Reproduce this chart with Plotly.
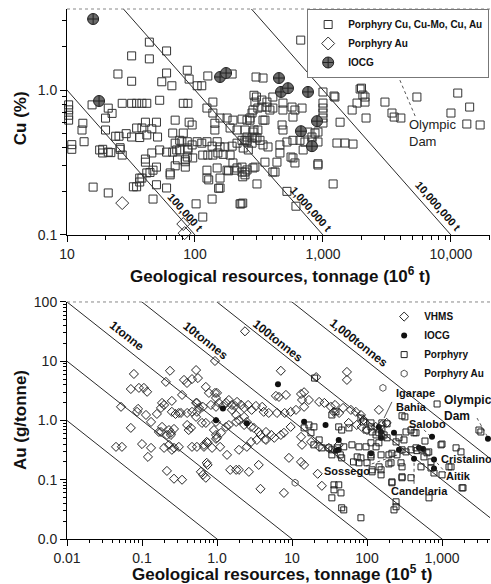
import numpy as np
import plotly.graph_objects as go

# ---------------- TOP PANEL DATA (Cu %, tonnage 10^6 t) ----------------
top_sq_x = [44,60,32,44,25,32,60,55,66,87,90,104,113,126,195,670,980,1290,300,340,
            10.3,10.3,10.3,10.3,10.9,10.9,13.6,15.7,13.3,13.1,21,20,22.5,27,32,35,38.5,42,53,41,50,46,35,38.5,29,32,24,25.5,20,19,22,26,27,37,42,51,53,60,70,90,95,67,81,72,88,87,70,84,64,50,47,44.5,41,35,33,38.5,50,60,16,21,136,102,115,225,124,149,178,205,233,246,284,124,157,157,104,113,124,136,149,157,171,195,213,233,255,279,305,115,126,138,151,166,188,95,87,79,138,157,178,198,143,143,188,213,255,279,88,81,138,124,233,269,284,289,289,294,70,76,73,84,198,
            18,19,21,26,41,46,67,76,88,64,37,37,42,47,84,96,128,153,183,213,229,
            302,333,406,365,294,310,333,365,385,406,487,487,573,604,686,583,479,487,279,255,269,340,352,246,284,310,246,255,322,340,372,238,261,461,523,583,661,723,700,820,914,866,914,764,820,461,437,583,604,294,246,255,406,914,1286,1486,1716,1360,1690,1845,2130,2050,2000,2170,3050,3460,3600,1000,1220,1000,1000,1000,1000,1000,
            914,1200,523,615,563,422,305,236,352,233,236,
            5420,11300,14000,10000,13300,16900,4060,1950,2130,1240]
top_sq_y = [2.14,1.86,1.72,1.64,1.29,1.15,1.31,1.14,1.07,1.37,1.19,1.07,1.07,1.25,1.29,2.21,1.44,1.44,1.23,1.21,
            0.79,0.73,0.67,0.62,0.42,0.39,0.44,0.79,0.59,0.53,0.75,0.64,0.69,0.81,0.81,0.81,0.81,0.81,0.85,0.60,0.60,0.54,0.547,0.547,0.50,0.474,0.48,0.48,0.53,0.39,0.37,0.39,0.356,0.47,0.49,0.474,0.386,0.373,0.62,0.60,0.574,0.505,0.505,0.386,0.386,0.345,0.30,0.294,0.26,0.294,0.28,0.27,0.334,0.215,0.215,0.247,0.222,0.211,0.214,0.195,0.177,0.164,0.133,0.164,0.28,0.29,0.28,0.28,0.294,0.26,0.29,0.247,0.247,0.211,0.44,0.43,0.44,0.41,0.44,0.405,0.405,0.41,0.43,0.45,0.45,0.43,0.467,0.356,0.356,0.356,0.368,0.36,0.356,0.418,0.44,0.44,0.694,0.641,0.641,0.62,0.59,0.53,0.547,0.53,0.474,0.467,0.81,0.81,0.826,0.751,0.63,0.62,0.728,0.92,0.53,0.474,0.43,0.45,0.33,0.33,0.314,
            0.386,0.368,0.373,0.40,0.318,0.368,0.373,0.386,0.398,0.268,0.247,0.232,0.268,0.177,0.32,0.34,0.24,0.21,0.277,0.29,0.164,
            0.895,0.853,0.895,0.826,0.826,0.751,0.763,0.763,0.728,0.751,0.813,0.728,0.763,0.728,0.751,0.651,0.574,0.53,0.694,0.62,0.641,0.62,0.62,0.53,0.513,0.53,0.45,0.438,0.45,0.418,0.405,0.398,0.386,0.418,0.438,0.45,0.45,0.438,0.386,0.438,0.438,0.505,0.513,0.513,0.474,0.368,0.318,0.34,0.314,0.294,0.272,0.281,0.272,0.304,0.431,0.431,0.424,0.60,0.728,0.813,0.826,0.924,1.03,0.641,0.826,0.694,0.651,0.969,0.909,0.813,0.751,0.694,0.641,0.592,
            0.31,0.225,0.20,0.158,0.345,0.272,0.225,0.166,0.318,0.272,0.252,
            0.895,0.953,0.763,0.694,0.583,0.574,0.641,1.016,0.895,0.895]
top_au_x = [27, 81, 83]
top_au_y = [0.166, 0.119, 0.103]
top_iocg_x = [16, 17.8, 157, 175, 453, 470, 533, 764, 898, 673, 820, 3790]
top_iocg_y = [3.09, 0.84, 1.23, 1.31, 1.21, 0.97, 1.03, 0.97, 0.61, 0.52, 0.41, 1.33]
top_contained = [10, 100, 1000]          # Cu% x Mt  -> 100,000 t / 1,000,000 t / 10,000,000 t
top_contained_labels = ["100,000 t", "1,000,000 t", "10,000,000 t"]
top_xticks = [10, 100, 1000, 10000]
top_xticktext = ["10", "100", "1,000", "10,000"]
top_yticks = [0.1, 1.0]
top_yticktext = ["0.1", "1.0"]

# ---------------- BOTTOM PANEL DATA (Au g/t, tonnage 10^5 t) ----------------
bot_vhms_x = [2.36,0.94,0.078,0.236,0.071,0.091,0.106,0.117,0.0525,0.071,0.0886,0.113,0.132,0.158,0.179,0.197,0.208,0.363,0.398,0.464,0.557,0.526,0.342,0.526,0.576,0.71,0.94,0.97,0.33,0.40,0.464,0.526,0.25,0.28,0.185,0.229,0.243,0.40,0.45,0.63,0.97,1.06,0.83,0.65,1.44,1.58,1.85,2.1,2.3,1.58,1.8,2.3,
              0.045,0.054,0.1,0.132,0.197,0.267,0.31,0.215,0.243,0.168,0.464,0.54,0.67,0.75,1.0,1.13,0.215,0.267,0.342,0.61,0.65,0.71,0.73,1.36,1.5,1.8,1.96,2.66,
              7.1,54,54,21,6.7,8.3,6.1,13.2,13.6,0.185,0.25,0.31,0.54,0.54,0.086,0.179,0.267,0.12,0.229,0.25,0.42,0.67,0.73,0.97,0.97,0.71,0.97,1.2,1.32,1.74,2.6,2.9,3.3,4.0,4.2,4.9,6.3,8.0,9.6,11.3,14.5,0.78,1.0,0.91,1.32,1.44,1.8,1.96,2.3,2.5,2.85,3.1,3.6,3.8,4.5,5.3,0.86,1.1,1.96,2.5,2.85,3.4,4.5,5.8,7.1,0.75,3.6,3.8,7.8,9.1,13.2,14.5,7.8,9.6,13.2,13.6,18,23,31,42,22,25,
              23,27,33,37.5,36,42.5,48,61,71,83,90,57,73,85,100,131,158,183,144,16.8,14.5]
bot_vhms_y = [32,10.1,6.1,6.9,3.4,3.55,3.55,3.05,1.7,0.75,1.57,1.24,0.946,1.29,1.63,1.83,4.48,4.84,4.3,5.0,5.2,7.1,2.7,1.98,1.63,3.69,2.92,2.40,1.34,1.34,1.40,1.15,1.40,1.29,0.78,0.69,0.62,0.84,0.75,0.91,1.70,1.98,1.83,1.70,2.22,1.83,2.06,1.83,1.63,1.51,1.24,1.15,
              0.359,0.359,0.40,0.345,0.345,0.345,0.359,0.57,0.57,0.64,0.359,0.359,0.359,0.42,0.51,0.62,0.141,0.104,0.10,0.136,0.121,0.108,0.193,0.263,0.147,0.147,0.147,0.136,
              6.9,6.6,4.84,5.4,2.5,2.7,2.6,2.8,2.22,1.98,2.14,1.34,1.98,1.40,1.40,0.64,0.72,0.243,0.388,0.32,0.69,0.388,0.435,0.49,0.57,0.91,0.946,1.76,1.98,1.76,1.83,1.51,1.76,1.70,1.40,1.34,1.34,1.34,1.40,1.51,1.70,2.92,2.92,0.69,0.78,0.84,0.946,1.02,0.84,0.946,0.78,0.75,0.64,0.57,0.64,0.57,0.345,0.359,0.32,0.359,0.435,0.47,0.47,0.51,0.57,0.178,0.178,0.0703,0.060,0.234,0.20,0.178,0.62,0.78,0.53,0.388,0.435,0.359,0.345,0.388,0.126,0.079,
              2.06,1.98,1.70,1.83,1.40,1.34,1.63,1.51,1.40,1.24,1.02,0.91,0.84,0.78,0.69,0.78,0.84,0.91,1.51,2.22,3.0]
bot_por_x = [20,860,320,450,593,1000,1790,3300,1320,1850,1000,713,386,293,215,145,154,154,196,117,113,83,74,46,34,36.3,42,45,36.3,34,46,83,244,244,117,132,144,169,158,63,78,97,113,34,40,49,23,19.6,25,31,293,331,386,464,631,267,311,331,424,97,113,83,90,113,158,185,42,46,57.5,14.5,16.8,19.6,17.9,1540,525,386,293,49,229,293,215,671,1905,782,1240,970,3110,
             44,66,78,100,113,154,196,209,284,293,117,132,144,158,185,215,251,450,541,575,666,713,244,34,38.6]
bot_por_y = [5.2,1.9,1.15,0.62,0.45,0.40,0.295,0.64,0.165,0.073,0.121,0.158,0.108,0.112,0.089,0.165,0.147,0.121,0.185,0.147,0.243,0.234,0.243,0.234,0.263,0.082,0.082,0.060,0.0676,0.0495,0.0336,0.0228,0.0424,0.035,0.64,0.57,0.62,0.57,0.72,0.388,0.359,0.359,0.42,0.32,0.345,0.359,0.47,0.388,0.345,0.345,0.32,0.295,0.32,0.31,0.285,0.51,0.47,0.64,0.62,0.69,0.78,1.1,0.946,0.91,0.91,0.88,0.78,0.69,0.75,0.75,0.84,0.78,0.62,0.345,0.165,0.69,1.2,0.031,0.031,0.108,0.092,0.0495,0.073,0.13,0.165,0.388,0.69,
             0.263,0.20,0.193,0.193,0.263,0.263,0.263,0.193,0.193,0.165,0.136,0.359,0.42,0.53,0.51,0.28,0.263,0.345,0.32,0.243,0.295,0.20,0.435,1.24,1.40]
bot_iocg_x = [6.5,14.5,28,42,154,736,493,558,424,782,782,4100,267,113,38.6,42,229,154,144,0.97,1.2,2.5]
bot_iocg_y = [4.1,0.95,0.84,0.47,0.51,0.53,0.345,0.33,0.225,0.22,0.155,0.49,0.32,0.28,0.31,0.32,0.62,0.64,0.78,1.01,1.6,0.9]
bot_pau_x = [163, 11, 4.4]
bot_pau_y = [3.55, 0.089, 0.47]
bot_contained = [0.01, 0.1, 1, 10, 100, 1000]   # g/t x 10^5 t
bot_contained_labels = ["1tonne", "10tonnes", "100tonnes", "1,000tonnes"]
bot_xticks = [0.01, 0.1, 1, 10, 100, 1000]
bot_xticktext = ["0.01", "0.1", "1.0", "10", "100", "1,000"]
bot_yticks = [0.01, 0.1, 1, 10, 100]
bot_yticktext = ["0.0", "0.1", "1.0", "10", "100"]

FONT = "Liberation Sans, Arial, Helvetica, sans-serif"
LC = "#2a2a2a"

fig = go.Figure()

# contained-metal lines (top)
for p in top_contained:
    xs = [1, 1e6]
    fig.add_trace(go.Scatter(x=xs, y=[p / v for v in xs], mode="lines",
                             line=dict(color=LC, width=1), showlegend=False,
                             hoverinfo="skip", xaxis="x", yaxis="y"))
# contained-metal lines (bottom)
for p in bot_contained:
    xs = [1e-4, 1e6]
    fig.add_trace(go.Scatter(x=xs, y=[p / v for v in xs], mode="lines",
                             line=dict(color=LC, width=1), showlegend=False,
                             hoverinfo="skip", xaxis="x2", yaxis="y2"))

# leader lines
def leader(x, y, xa, ya, dash="dot"):
    fig.add_trace(go.Scatter(x=x, y=y, mode="lines", line=dict(color="#555", width=1, dash=dash),
                             showlegend=False, hoverinfo="skip", xaxis=xa, yaxis=ya))

leader([3990, 5330], [1.17, 0.641], "x", "y")
leader([215, 169], [2.06, 1.1], "x2", "y2", "solid")
leader([2930, 3980], [1.1, 0.55], "x2", "y2")
leader([575, 713], [0.695, 0.53], "x2", "y2")
leader([97, 331], [0.171, 0.295], "x2", "y2")
leader([424, 424], [0.193, 0.079], "x2", "y2")
leader([858, 1130], [0.193, 0.13], "x2", "y2")

# top markers
fig.add_trace(go.Scatter(x=top_sq_x, y=top_sq_y, mode="markers", name="<b>Porphyry Cu, Cu-Mo, Cu, Au</b>",
                         marker=dict(symbol="square-open", size=8, color="#333", line=dict(width=1)),
                         cliponaxis=False, xaxis="x", yaxis="y", legend="legend"))
fig.add_trace(go.Scatter(x=top_au_x, y=top_au_y, mode="markers", name="<b>Porphyry Au</b>",
                         marker=dict(symbol="diamond-open", size=10, color="#333", line=dict(width=1)),
                         cliponaxis=False, xaxis="x", yaxis="y", legend="legend"))
fig.add_trace(go.Scatter(x=top_iocg_x, y=top_iocg_y, mode="markers", name="<b>IOCG</b>",
                         marker=dict(symbol="circle-cross", size=11, color="#6a6a6a",
                                     line=dict(width=1, color="#222")),
                         cliponaxis=False, xaxis="x", yaxis="y", legend="legend"))

# bottom markers
fig.add_trace(go.Scatter(x=bot_vhms_x, y=bot_vhms_y, mode="markers", name="<b>VHMS</b>",
                         marker=dict(symbol="diamond-open", size=7, color="#222", line=dict(width=1)),
                         cliponaxis=False, xaxis="x2", yaxis="y2", legend="legend2"))
fig.add_trace(go.Scatter(x=bot_iocg_x, y=bot_iocg_y, mode="markers", name="<b>IOCG</b>",
                         marker=dict(symbol="circle", size=6, color="#111"),
                         cliponaxis=False, xaxis="x2", yaxis="y2", legend="legend2"))
fig.add_trace(go.Scatter(x=bot_por_x, y=bot_por_y, mode="markers", name="<b>Porphyry</b>",
                         marker=dict(symbol="square-open", size=6, color="#222", line=dict(width=1)),
                         cliponaxis=False, xaxis="x2", yaxis="y2", legend="legend2"))
fig.add_trace(go.Scatter(x=bot_pau_x, y=bot_pau_y, mode="markers", name="<b>Porphyry Au</b>",
                         marker=dict(symbol="hexagon-open", size=7, color="#555", line=dict(width=1)),
                         cliponaxis=False, xaxis="x2", yaxis="y2", legend="legend2"))

def minor_vals(lo, hi):
    return [m * 10.0 ** e for e in range(lo, hi) for m in range(2, 10)]

axis_common = dict(type="log", showgrid=False, zeroline=False, showline=True, linecolor="black",
                   linewidth=1, ticks="outside", ticklen=6, tickcolor="black",
                   tickfont=dict(family=FONT, size=14, color="#222"), tickmode="array")

fig.update_layout(
    width=491, height=584,
    margin=dict(l=67, r=1, t=9, b=45, autoexpand=False),
    paper_bgcolor="white", plot_bgcolor="white",
    font=dict(family=FONT, color="#222"),
    xaxis=dict(**axis_common, range=[1, 4.305], domain=[0, 1], anchor="y",
               tickvals=top_xticks, ticktext=top_xticktext,
               minor=dict(ticks="outside", ticklen=4, tickcolor="black", tickmode="array",
                          tickvals=minor_vals(1, 5))),
    yaxis=dict(**axis_common, range=[-1, 0.559], domain=[0.5736, 1], anchor="x",
               tickvals=top_yticks, ticktext=top_yticktext,
               minor=dict(ticks="outside", ticklen=4, tickcolor="black", tickmode="array",
                          tickvals=minor_vals(-1, 1))),
    xaxis2=dict(**axis_common, range=[-2, 3.64], domain=[0, 1], anchor="y2",
                tickvals=bot_xticks, ticktext=bot_xticktext,
                minor=dict(ticks="outside", ticklen=3, tickcolor="black", tickmode="array",
                           tickvals=minor_vals(-2, 4))),
    yaxis2=dict(**axis_common, range=[-2, 2], domain=[0, 0.4472], anchor="x2",
                tickvals=bot_yticks, ticktext=bot_yticktext,
                minor=dict(ticks="outside", ticklen=3, tickcolor="black", tickmode="array",
                           tickvals=minor_vals(-2, 2))),
    legend=dict(x=0.998, y=1.0, xanchor="right", yanchor="top", bgcolor="white",
                bordercolor="#777", borderwidth=1, font=dict(family=FONT, size=10, color="#111"),
                tracegroupgap=0, itemwidth=30),
    legend2=dict(x=0.998, y=0.447, xanchor="right", yanchor="top", bgcolor="rgba(255,255,255,0)",
                 borderwidth=0, font=dict(family=FONT, size=10, color="#111"),
                 tracegroupgap=0, itemwidth=30),
    shapes=[
        dict(type="line", xref="x domain", yref="y domain", x0=0, x1=1, y0=1, y1=1,
             line=dict(color="#888", width=1, dash="dot")),
        dict(type="line", xref="x2 domain", yref="y2 domain", x0=0, x1=1, y0=1, y1=1,
             line=dict(color="#888", width=1, dash="dot")),
    ],
)

ann = []
# axis titles
ttl = dict(family=FONT, size=17, color="#111")
ann.append(dict(text="<b>Cu (%)</b>", xref="paper", yref="paper", x=-0.111, y=0.794,
                xanchor="center", yanchor="middle", textangle=-90, showarrow=False, font=ttl))
ann.append(dict(text="<b>Geological resources, tonnage (10<sup>6</sup> t)</b>", xref="paper", yref="paper",
                x=0.503, y=0.498, xanchor="center", yanchor="middle", showarrow=False, font=ttl))
ann.append(dict(text="<b>Au (g/tonne)</b>", xref="paper", yref="paper", x=-0.111, y=0.2245,
                xanchor="center", yanchor="middle", textangle=-90, showarrow=False, font=ttl))
ann.append(dict(text="<b>Geological resources, tonnage (10<sup>5</sup> t)</b>", xref="paper", yref="paper",
                x=0.508, y=-0.064, xanchor="center", yanchor="middle", showarrow=False, font=ttl))

# contained-metal line labels (top)
top_lab_pos = [(83.6, 0.144), (805, 0.151), (7910, 0.158)]
for lab, (lx, ly) in zip(top_contained_labels, top_lab_pos):
    ann.append(dict(text="<b>" + lab + "</b>", x=np.log10(lx), y=np.log10(ly), xref="x", yref="y",
                    xanchor="center", yanchor="middle",
                    textangle=48.6, showarrow=False, font=dict(family=FONT, size=11, color="#111")))
# contained-metal line labels (bottom)
bot_lab_pos = [(0.063, 26.7), (0.713, 22), (6.5, 22), (78, 20.4)]
for lab, (lx, ly) in zip(bot_contained_labels, bot_lab_pos):
    ann.append(dict(text="<b>" + lab + "</b>", x=np.log10(lx), y=np.log10(ly), xref="x2", yref="y2",
                    xanchor="center", yanchor="middle",
                    textangle=38.3, showarrow=False, font=dict(family=FONT, size=12, color="#111")))

# deposit names
ann.append(dict(text="Olympic<br>Dam", x=np.log10(4530), y=np.log10(0.505), xref="x", yref="y",
                xanchor="left", yanchor="middle",
                showarrow=False, align="left", font=dict(family=FONT, size=13, color="#222")))
dep = [("Igarape<br>Bahia", 229, 2.22, 11), ("Olympic<br>Dam", 1000, 1.63, 12), ("Salobo", 341, 0.877, 11),
       ("Cristalino", 912, 0.225, 11), ("Aitik", 1063, 0.116, 11), ("Candelaria", 196, 0.065, 11),
       ("Sossego", 25.1, 0.141, 11)]
for t, dx, dy, fs in dep:
    ann.append(dict(text="<b>" + t + "</b>", x=np.log10(dx), y=np.log10(dy), xref="x2", yref="y2",
                    xanchor="left", yanchor="middle", showarrow=False, align="left",
                    font=dict(family=FONT, size=fs, color="#111")))
fig.update_layout(annotations=ann)

fig.write_html("out.html")
